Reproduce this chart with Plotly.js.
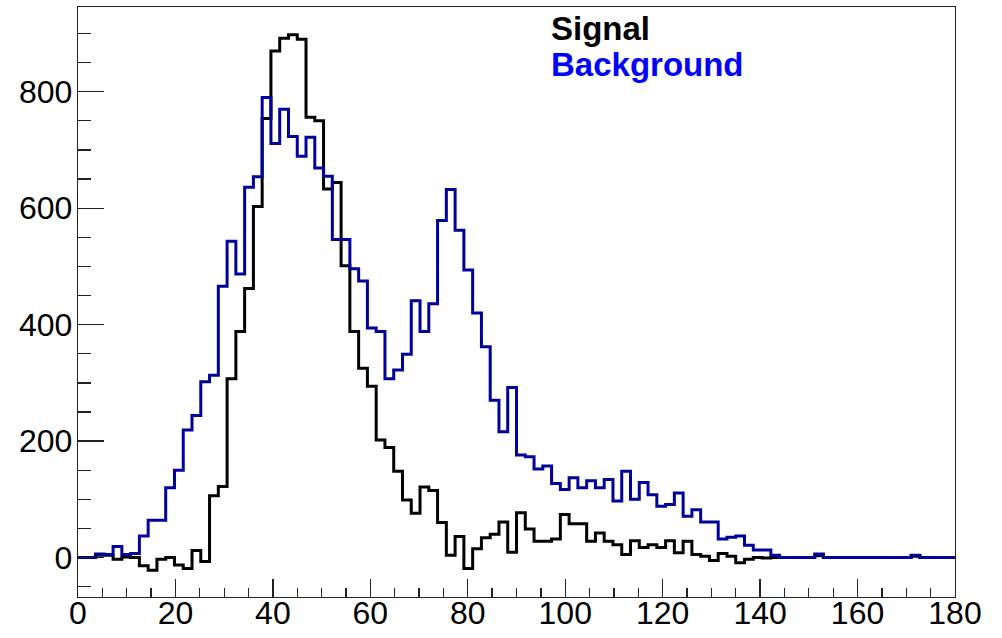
<!DOCTYPE html>
<html>
<head>
<meta charset="utf-8">
<script src="https://cdn.plot.ly/plotly-3.0.1.min.js"></script>
<style>
  html, body { margin: 0; padding: 0; background: #ffffff; }
  #chart { width: 1002px; height: 638px; }
</style>
</head>
<body>
<div id="chart"></div>
<script>
// Histogram binning: 100 bins over [0, 180]
const X_MIN = 0;
const X_MAX = 180;
const N_BINS = 100;

// Bin contents, signal sample
const signal = [
  0, 0, 4, 4, -3, 1, 0, -14, -22, -3,
  0, -13, -19, 12, -7, 106, 122, 307, 388, 462,
  603, 754, 870, 892, 898, 890, 756, 750, 633, 644,
  501, 388, 325, 294, 202, 189, 148, 99, 76, 121,
  115, 60, 4, 36, -19, 15, 34, 40, 61, 9,
  77, 49, 28, 28, 32, 74, 58, 58, 28, 42,
  28, 22, 5, 29, 17, 22, 17, 29, 8, 28,
  5, 2, -5, 7, 2, -9, -3, 0, -1, 0,
  0, 0, 0, 0, 3, 0, 0, 0, 0, 0,
  0, 0, 0, 0, 0, 2, 0, 0, 0, 0
];

// Bin contents, background sample
const background = [
  0, 0, 6, 5, 19, 5, 7, 37, 64, 64,
  120, 150, 219, 244, 302, 313, 466, 543, 487, 636,
  654, 790, 711, 770, 723, 689, 722, 669, 655, 546,
  546, 496, 475, 394, 388, 307, 322, 349, 441, 388,
  436, 579, 632, 562, 494, 420, 362, 270, 216, 292,
  176, 173, 152, 157, 127, 117, 137, 120, 132, 120,
  134, 97, 148, 100, 129, 108, 88, 91, 111, 71,
  82, 61, 61, 32, 35, 37, 21, 13, 13, 4,
  0, 0, 0, 0, 6, 0, 0, 0, 0, 0,
  0, 0, 0, 0, 0, 4, 0, 0, 0, 0
];

const legendLabels = ['Signal', 'Background'];

// Left bin edges plus the upper limit, so a 'hv' line traces the histogram outline
function binEdges() {
  const w = (X_MAX - X_MIN) / N_BINS;
  const e = [];
  for (let i = 0; i <= N_BINS; i++) e.push(X_MIN + i * w);
  return e;
}
function stepValues(v) {
  return v.concat([v[v.length - 1]]);
}

const edges = binEdges();

const traces = [
  {
    type: 'scatter', mode: 'lines', name: legendLabels[0],
    x: edges, y: stepValues(signal),
    line: { shape: 'hv', color: '#000000', width: 3 },
    hoverinfo: 'skip'
  },
  {
    type: 'scatter', mode: 'lines', name: legendLabels[1],
    x: edges, y: stepValues(background),
    line: { shape: 'hv', color: '#00009c', width: 3 },
    hoverinfo: 'skip'
  }
];

const tickFont = { family: 'Liberation Sans, Arial, sans-serif', size: 32, color: '#000000' };

const layout = {
  width: 1002, height: 638,
  margin: { l: 78, r: 47, t: 7, b: 41, pad: 0 },
  paper_bgcolor: '#ffffff', plot_bgcolor: '#ffffff',
  showlegend: false,
  xaxis: {
    range: [X_MIN, X_MAX],
    showgrid: false, zeroline: false,
    showline: true, mirror: true, linecolor: '#222222', linewidth: 1.3,
    ticks: 'inside', ticklen: 18, tickwidth: 1.3, tickcolor: '#222222',
    dtick: 20, tick0: 0,
    minor: { ticks: 'inside', ticklen: 9, dtick: 5, tickwidth: 1.3, tickcolor: '#222222', showgrid: false },
    tickfont: tickFont, ticklabelstandoff: -13
  },
  yaxis: {
    range: [-67.8, 945.5],
    showgrid: false, zeroline: false,
    showline: true, mirror: true, linecolor: '#222222', linewidth: 1.3,
    ticks: 'inside', ticklen: 26, tickwidth: 1.3, tickcolor: '#222222',
    dtick: 200, tick0: 0,
    minor: { ticks: 'inside', ticklen: 13, dtick: 50, tickwidth: 1.3, tickcolor: '#222222', showgrid: false },
    tickfont: tickFont, ticklabelstandoff: -2
  },
  annotations: [
    {
      xref: 'paper', yref: 'paper', x: 0.537, y: (597 - 29) / 590,
      xanchor: 'left', yanchor: 'middle', showarrow: false,
      text: '<b>' + legendLabels[0] + '</b>',
      font: { family: 'Liberation Sans, Arial, sans-serif', size: 33, color: '#000000' }
    },
    {
      xref: 'paper', yref: 'paper', x: 0.537, y: (597 - 64) / 590,
      xanchor: 'left', yanchor: 'middle', showarrow: false,
      text: '<b>' + legendLabels[1] + '</b>',
      font: { family: 'Liberation Sans, Arial, sans-serif', size: 33, color: '#0000ff' }
    }
  ]
};

Plotly.newPlot('chart', traces, layout, { staticPlot: true, displayModeBar: false });
</script>
</body>
</html>
